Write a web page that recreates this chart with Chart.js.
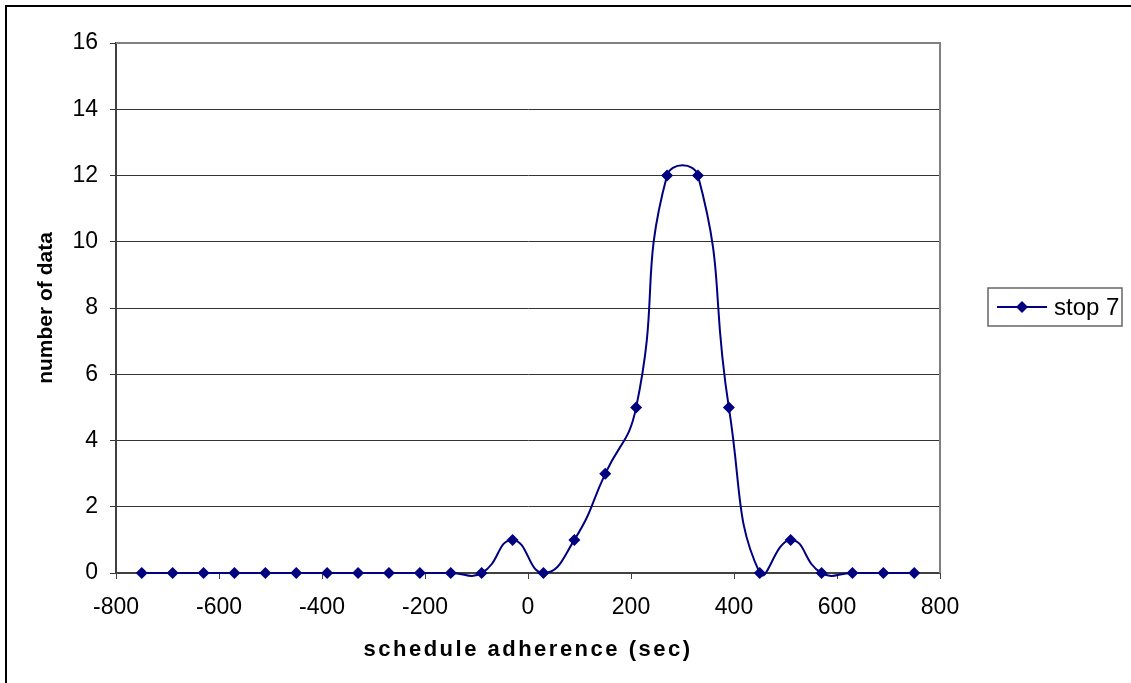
<!DOCTYPE html>
<html>
<head>
<meta charset="utf-8">
<script src="https://cdn.jsdelivr.net/npm/chart.js@4.4.0/dist/chart.umd.min.js"></script>
<style>
  html, body { margin: 0; padding: 0; background: #fff; overflow: hidden; }
  #wrap { position: absolute; left: 0; top: 0; width: 1131px; height: 683px; }
</style>
</head>
<body>
<div id="wrap"><canvas id="chart" width="1131" height="683"></canvas></div>
<script>
// schedule adherence bins (sec) and counts for stop 7
const adherence = [-750, -690, -630, -570, -510, -450, -390, -330, -270, -210, -150, -90, -30,
  30, 90, 150, 210, 270, 330, 390, 450, 510, 570, 630, 690, 750];
const counts = [0, 0, 0, 0, 0, 0, 0, 0, 0, 0, 0, 0, 1,
  0, 1, 3, 5, 12, 12, 5, 0, 1, 0, 0, 0, 0];
const seriesLabel = 'stop 7';
const xTicks = [-800, -600, -400, -200, 0, 200, 400, 600, 800];
const yTicks = [0, 2, 4, 6, 8, 10, 12, 14, 16];

const NAVY = '#000080';
const FONT = '"Liberation Sans", Arial, sans-serif';

// outer frame, plot frame and the boxed legend on the right
const framePlugin = {
  id: 'frame',
  beforeDraw(chart) {
    const ctx = chart.ctx;
    ctx.save();
    ctx.fillStyle = '#fff';
    ctx.fillRect(0, 0, chart.width, chart.height);
    ctx.restore();
  },
  beforeDatasetsDraw(chart) {
    const { ctx, chartArea: a } = chart;
    ctx.save();
    ctx.strokeStyle = '#808080';
    ctx.lineWidth = 2;
    ctx.beginPath();
    ctx.moveTo(a.left, a.top);
    ctx.lineTo(a.right, a.top);
    ctx.lineTo(a.right, a.bottom);
    ctx.stroke();
    ctx.restore();
  },
  afterDraw(chart) {
    const ctx = chart.ctx;
    ctx.save();
    ctx.fillStyle = '#000';
    ctx.fillRect(5, 5, chart.width - 5, 2);
    ctx.fillRect(5, 5, 2, chart.height - 5);

    // legend
    const ds = chart.data.datasets[0];
    const bx = 988, by = 288, bw = 134, bh = 38;
    ctx.strokeStyle = '#666';
    ctx.lineWidth = 1.5;
    ctx.strokeRect(bx, by, bw, bh);
    const cy = by + bh / 2;
    ctx.strokeStyle = ds.borderColor;
    ctx.lineWidth = 2;
    ctx.beginPath();
    ctx.moveTo(bx + 9, cy);
    ctx.lineTo(bx + 59, cy);
    ctx.stroke();
    ctx.fillStyle = ds.pointBackgroundColor;
    ctx.beginPath();
    ctx.moveTo(bx + 34, cy - 6);
    ctx.lineTo(bx + 40, cy);
    ctx.lineTo(bx + 34, cy + 6);
    ctx.lineTo(bx + 28, cy);
    ctx.closePath();
    ctx.fill();
    ctx.fillStyle = '#000';
    ctx.font = '24px ' + FONT;
    ctx.textBaseline = 'middle';
    ctx.textAlign = 'left';
    ctx.fillText(ds.label, bx + 66, cy + 1);
    ctx.restore();
  }
};

const chart = new Chart(document.getElementById('chart'), {
  type: 'scatter',
  data: {
    datasets: [{
      label: seriesLabel,
      data: adherence.map((x, i) => ({ x, y: counts[i] })),
      showLine: true,
      borderColor: NAVY,
      borderWidth: 2,
      pointStyle: 'rectRot',
      pointRadius: 6,
      pointBackgroundColor: NAVY,
      pointBorderColor: NAVY,
      pointBorderWidth: 0,
      tension: 0.5,
      clip: 10
    }]
  },
  options: {
    responsive: false,
    animation: false,
    devicePixelRatio: 1,
    elements: { line: { capBezierPoints: false } },
    layout: { padding: { left: 30, right: 191, top: 43, bottom: 13 } },
    plugins: {
      legend: { display: false },
      tooltip: { enabled: false }
    },
    scales: {
      x: {
        type: 'linear',
        min: -800, max: 800,
        afterBuildTicks(scale) { scale.ticks = xTicks.map(v => ({ value: v })); },
        afterFit(scale) { scale.height = 97; },
        grid: { drawOnChartArea: false, drawTicks: true, tickLength: 6, color: '#404040', lineWidth: 1 },
        border: { color: '#404040', width: 2 },
        ticks: { color: '#000', font: { family: FONT, size: 23 }, padding: 15, maxRotation: 0 },
        title: {
          display: true,
          text: 'schedule adherence (sec)',
          color: '#000',
          font: { family: FONT, size: 22, weight: 'bold' },
          padding: { top: 0, bottom: 7 }
        }
      },
      y: {
        min: 0, max: 16,
        afterBuildTicks(scale) { scale.ticks = yTicks.map(v => ({ value: v })); },
        afterFit(scale) { scale.width = 86; },
        grid: { drawOnChartArea: true, drawTicks: true, tickLength: 6, color: '#333', lineWidth: 1 },
        border: { color: '#404040', width: 2 },
        ticks: { color: '#000', font: { family: FONT, size: 23 }, padding: 12 },
        title: {
          display: true,
          text: 'number of data',
          color: '#000',
          font: { family: FONT, size: 21, weight: 'bold' },
          padding: { top: 4, bottom: 0 }
        }
      }
    }
  },
  plugins: [framePlugin]
});

// wider letter spacing on the x axis title
const xScale = chart.scales.x;
const baseDrawTitle = xScale.drawTitle.bind(xScale);
xScale.drawTitle = function () {
  const ctx = this.ctx;
  ctx.save();
  ctx.letterSpacing = '2.5px';
  baseDrawTitle();
  ctx.restore();
};
chart.draw();
</script>
</body>
</html>
